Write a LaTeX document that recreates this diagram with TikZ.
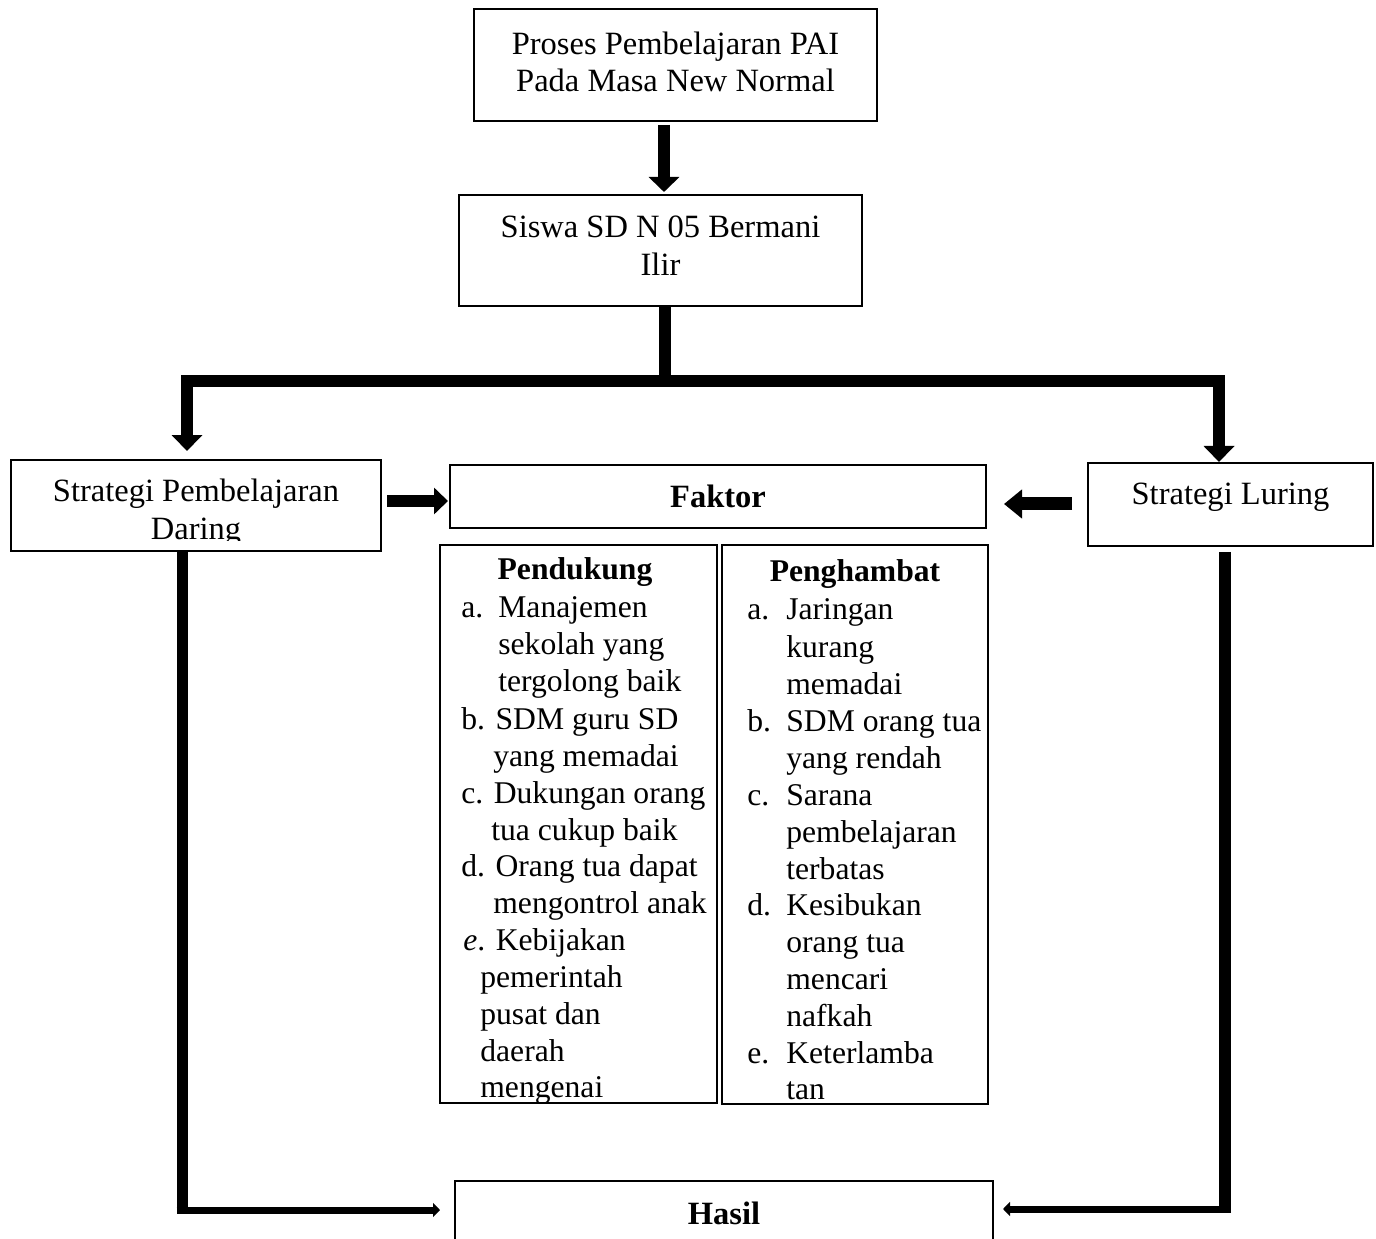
\documentclass[tikz,border=0pt]{standalone}
\usepackage{fontspec}
\setmainfont{Liberation Serif}
\usetikzlibrary{arrows.meta,calc}
\begin{document}
\begin{tikzpicture}[x=0.02cm,y=-0.02cm,
  box/.style={draw, line width=1pt, rectangle, inner sep=0pt, outer sep=0pt},
  bt/.style={font=\fontsize{18.5}{21.5}\selectfont, align=center, inner sep=0pt},
  lt/.style={font=\fontsize{18}{21}\selectfont, anchor=base west, inner sep=0pt},
  ltc/.style={font=\fontsize{18}{21}\selectfont\bfseries, anchor=base, inner sep=0pt},
  thk/.style={line width=0.24cm, line join=miter},
  droptip/.style={-{Triangle[width=0.6cm,length=0.32cm]}},
  sidetip/.style={-{Triangle[width=0.52cm,length=0.28cm]}},
  sidetipb/.style={-{Triangle[width=0.56cm,length=0.36cm]}},
  smalltip/.style={-{Triangle[width=0.28cm,length=0.14cm]}}
]
\useasboundingbox (0,0) rectangle (1376,1239);
\clip (0,0) rectangle (1376,1239);
\fill[white] (0,0) rectangle (1376,1239);

% boxes
\node[box, minimum width=403*0.02cm, minimum height=112*0.02cm] (top) at (675.5,65) {};
\node[bt] (toptxt) at (675.5,62) {Proses Pembelajaran PAI\\Pada Masa New Normal};
\node[box, minimum width=403*0.02cm, minimum height=111*0.02cm] (box2) at (660.5,250.5) {};
\node[bt] (box2txt) at (660.5,245.5) {Siswa SD N 05 Bermani\\Ilir};
\node[box, minimum width=370*0.02cm, minimum height=91*0.02cm] (daring) at (196,505.5) {};
\begin{scope}
  \clip (12,461) rectangle (380,541);
  \node[bt] (daringtxt) at (196,512.5) {Strategi Pembelajaran\\Daring};
\end{scope}
\node[box, bt, font=\fontsize{18.5}{21.5}\selectfont\bfseries, minimum width=536*0.02cm, minimum height=63*0.02cm] (faktor) at (718,496.5) {Faktor};
\node[box, minimum width=285*0.02cm, minimum height=83*0.02cm] (luring) at (1230.5,504.5) {};
\node[bt] (luringtxt) at (1230.5,497) {Strategi Luring};
\node[box, minimum width=277*0.02cm, minimum height=558*0.02cm] (pend) at (578.5,824) {};
\node[box, minimum width=266*0.02cm, minimum height=559*0.02cm] (peng) at (855,824.5) {};
\node[box, bt, font=\fontsize{18.5}{21.5}\selectfont\bfseries, minimum width=538*0.02cm, minimum height=64*0.02cm] (hasil) at (724,1213) {Hasil};

% Pendukung list
\node[ltc] (p0) at (575,580) {Pendukung};
\node[lt] (p1a) at (461,618) {a.};
\node[lt] (p1) at (498,618) {Manajemen};
\node[lt] (p2) at (498,655) {sekolah yang};
\node[lt] (p3) at (498,692) {tergolong baik};
\node[lt] (p4) at (461,729) {b. SDM guru SD};
\node[lt] (p5) at (493,766) {yang memadai};
\node[lt] (p6) at (461,803) {c. Dukungan orang};
\node[lt] (p7) at (491,840) {tua cukup baik};
\node[lt] (p8) at (461,876) {d. Orang tua dapat};
\node[lt] (p9) at (493,913) {mengontrol anak};
\node[lt] (p10) at (463,950) {\textit{e}. Kebijakan};
\node[lt] (p11) at (480,987) {pemerintah};
\node[lt] (p12) at (480,1024) {pusat dan};
\node[lt] (p13) at (480,1061) {daerah};
\node[lt] (p14) at (480,1097) {mengenai};

% Penghambat list
\node[ltc] (q0) at (855,582) {Penghambat};
\node[lt] (q1a) at (747,620) {a.};
\node[lt] (q1) at (786,620) {Jaringan};
\node[lt] (q2) at (786,658) {kurang};
\node[lt] (q3) at (786,695) {memadai};
\node[lt] (q4a) at (747,731) {b.};
\node[lt] (q4) at (786,731) {SDM orang tua};
\node[lt] (q5) at (786,768) {yang rendah};
\node[lt] (q6a) at (747,805) {c.};
\node[lt] (q6) at (786,805) {Sarana};
\node[lt] (q7) at (786,842) {pembelajaran};
\node[lt] (q8) at (786,879) {terbatas};
\node[lt] (q9a) at (747,915) {d.};
\node[lt] (q9) at (786,915) {Kesibukan};
\node[lt] (q10) at (786,952) {orang tua};
\node[lt] (q11) at (786,989) {mencari};
\node[lt] (q12) at (786,1026) {nafkah};
\node[lt] (q13a) at (747,1063) {e.};
\node[lt] (q13) at (786,1063) {Keterlamba};
\node[lt] (q14) at (786,1099) {tan};

% connectors
\coordinate (c1) at (664,0);
\draw[line width=0.24cm, -{Triangle[width=0.6cm,length=0.3cm]}, shorten <=0.08cm, shorten >=0.06cm]
  (top.south -| c1) -- (box2.north -| c1);

\coordinate (jc) at (665,381);
\coordinate (bl) at (187,381);
\coordinate (br) at (1219,381);
\draw[thk] (box2.south -| jc) -- (jc);
\draw[thk, droptip, shorten >=0.18cm] (jc) -- (bl) -- (bl |- daring.north);
\draw[thk, droptip, shorten >=0.02cm] (jc) -- (br) -- (br |- luring.north);

\coordinate (ay1) at (0,501);
\draw[line width=0.24cm, sidetip, shorten <=0.12cm, shorten >=0.04cm]
  (daring.east |- ay1) -- (faktor.west |- ay1);
\coordinate (ay2) at (0,504);
\draw[line width=0.26cm, sidetipb, shorten <=0.32cm, shorten >=0.36cm]
  (luring.west |- ay2) -- (faktor.east |- ay2);

\coordinate (hl) at (182,1210);
\draw[line width=0.22cm] (daring.south -| hl) -- ([yshift=-0.07cm]hl);
\draw[line width=0.14cm, smalltip, shorten >=0.3cm] ([xshift=-0.11cm]hl) -- (hl -| hasil.west);

\coordinate (hr) at (1225,1209);
\draw[line width=0.24cm, shorten <=0.12cm] (luring.south -| hr) -- ([yshift=-0.08cm]hr);
\draw[line width=0.14cm, smalltip, shorten >=0.2cm] ([xshift=0.12cm]hr) -- (hr -| hasil.east);
\end{tikzpicture}
\end{document}
